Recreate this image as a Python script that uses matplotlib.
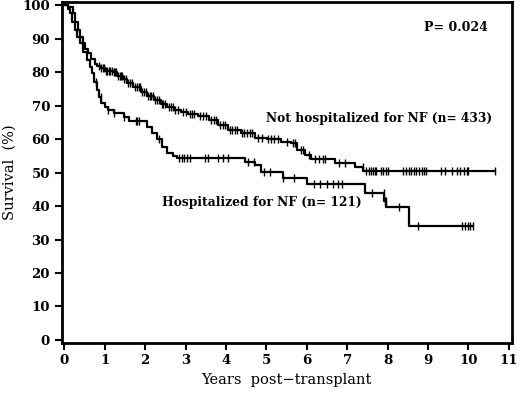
import numpy as np
import matplotlib
matplotlib.use("Agg")
import matplotlib.pyplot as plt

# Kaplan-Meier curves (years, survival % after step)
hosp_t = [0.0, 0.09, 0.14, 0.20, 0.26, 0.32, 0.38, 0.46, 0.55, 0.63, 0.68, 0.74, 0.80,
          0.86, 0.92, 1.00, 1.07, 1.24, 1.48, 1.60, 2.05, 2.17, 2.29, 2.42, 2.53, 2.68,
          2.78, 4.47, 4.71, 4.86, 5.40, 6.00, 7.43, 7.92, 7.96, 8.53]
hosp_s = [100, 99.0, 97.6, 95.0, 92.5, 90.5, 88.6, 86.0, 83.6, 81.5, 79.7, 77.0, 74.6,
          72.5, 70.7, 69.5, 68.7, 67.8, 66.6, 65.3, 63.5, 61.8, 60.0, 57.6, 56.0, 55.0,
          54.4, 53.1, 52.2, 50.1, 48.3, 46.6, 43.8, 41.5, 39.6, 33.9]
hosp_cens = [0.79, 0.91, 1.08, 1.24, 1.48, 1.77, 1.81, 1.85, 2.34, 2.83, 2.90, 2.96,
             3.03, 3.12, 3.48, 3.55, 3.81, 3.93, 4.05, 4.54, 4.70, 4.95, 5.10, 5.40,
             5.68, 6.17, 6.33, 6.50, 6.66, 6.78, 6.86, 7.62, 7.90, 7.93, 7.95, 8.28,
             8.75, 9.85, 9.92, 9.98, 10.05, 10.12]
hosp_end = 10.12

nohosp_t = [0.0, 0.10, 0.21, 0.27, 0.33, 0.40, 0.46, 0.52, 0.58, 0.65, 0.75, 0.80, 0.90,
            1.00, 1.20, 1.30, 1.45, 1.55, 1.70, 1.90, 2.05, 2.22, 2.40, 2.54, 2.72, 2.88,
            3.07, 3.30, 3.57, 3.81, 4.05, 4.37, 4.71, 5.02, 5.35, 5.60, 5.75, 5.95, 6.10,
            6.70, 7.20, 7.40]
nohosp_s = [100, 99.5, 97.6, 95.0, 92.5, 90.5, 88.6, 87.0, 85.7, 84.0, 82.5, 82.0, 81.2,
            80.4, 80.0, 79.0, 78.0, 76.7, 75.5, 74.0, 73.0, 71.6, 70.6, 69.6, 68.8, 68.0,
            67.6, 67.0, 65.7, 64.2, 62.7, 61.8, 60.3, 59.9, 59.2, 58.7, 56.7, 55.2, 54.2,
            52.8, 51.6, 50.6]
nohosp_cens = [0.85, 0.90, 0.95, 0.99, 1.02, 1.06, 1.10, 1.14, 1.18, 1.22, 1.25, 1.29,
               1.33, 1.37, 1.40, 1.44, 1.48, 1.53, 1.58, 1.62, 1.68, 1.75, 1.80, 1.84,
               1.88, 1.93, 1.97, 2.02, 2.08, 2.12, 2.15, 2.20, 2.25, 2.30, 2.35, 2.42,
               2.45, 2.50, 2.58, 2.65, 2.70, 2.75, 2.82, 2.93, 3.00, 3.10, 3.15, 3.22,
               3.35, 3.42, 3.50, 3.62, 3.70, 3.75, 3.85, 3.92, 3.98, 4.10, 4.15, 4.22,
               4.28, 4.40, 4.45, 4.52, 4.60, 4.65, 4.80, 4.90, 5.05, 5.12, 5.20, 5.28,
               5.50, 5.65, 5.70, 5.85, 5.90, 6.05, 6.20, 6.30, 6.40, 6.45, 6.80, 6.95,
               7.39, 7.47, 7.55, 7.60, 7.64, 7.68, 7.72, 7.84, 7.88, 7.95, 8.00, 8.37,
               8.45, 8.53, 8.57, 8.66, 8.70, 8.78, 8.86, 8.90, 8.94, 9.31, 9.43, 9.59,
               9.72, 9.80, 9.88, 9.96, 10.00, 10.65]
nohosp_end = 10.65

xticks = list(range(0, 12))
yticks = list(range(0, 101, 10))


def surv_at(times, surv, t):
    idx = np.searchsorted(times, t, side="right") - 1
    return np.asarray(surv)[idx]


plt.rcParams["font.family"] = "DejaVu Serif"
plt.rcParams["font.weight"] = "bold"

fig = plt.figure(figsize=(5.2, 3.96), dpi=100)
ax = fig.add_axes([0.119, 0.135, 0.865, 0.86])

for t, s, cens, end in [(hosp_t, hosp_s, hosp_cens, hosp_end),
                        (nohosp_t, nohosp_s, nohosp_cens, nohosp_end)]:
    tt = list(t) + [end]
    ss = list(s) + [s[-1]]
    ax.step(tt, ss, where="post", color="black", lw=1.6)
    ax.plot(cens, surv_at(t, s, cens), linestyle="none", marker="|",
            color="black", markersize=6, markeredgewidth=1.0)

ax.text(9.68, 93.4, "P= 0.024", ha="center", va="center", fontsize=9)
ax.text(4.99, 66.3, "Not hospitalized for NF (n= 433)", ha="left", va="center",
        fontsize=8.8)
ax.text(2.42, 41.2, "Hospitalized for NF (n= 121)", ha="left", va="center",
        fontsize=8.8)

ax.set_xlim(-0.06, 11.07)
ax.set_ylim(-0.8, 101)
ax.set_xticks(xticks)
ax.set_yticks(yticks)
ax.tick_params(direction="out", length=5, width=1.5, labelsize=9.6)
for sp in ax.spines.values():
    sp.set_linewidth(2)

ax.set_xlabel("Years  post\u2212transplant", fontsize=10.5)
ax.set_ylabel("Survival  (%)", fontsize=10.5)
ax.yaxis.set_label_coords(-0.1, 0.5)

fig.savefig("out.png", dpi=100)
